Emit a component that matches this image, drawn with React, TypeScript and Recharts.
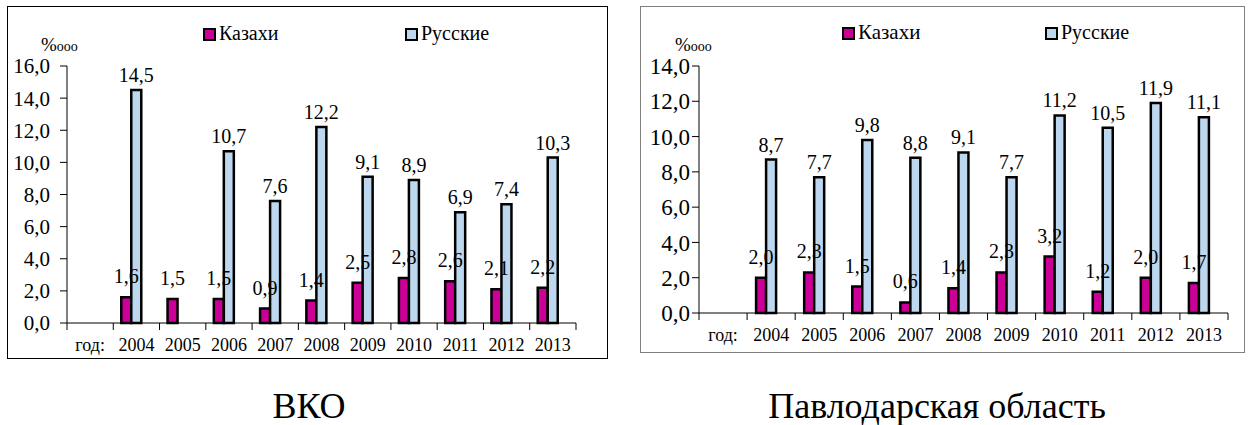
import React from 'react';
import { BarChart, Bar, XAxis, YAxis, LabelList } from 'recharts';

const years = ['год:', '2004', '2005', '2006', '2007', '2008', '2009', '2010', '2011', '2012', '2013'];

const vkoKazakh = [null, 1.6, 1.5, 1.5, 0.9, 1.4, 2.5, 2.8, 2.6, 2.1, 2.2];
const vkoRussian = [null, 14.5, null, 10.7, 7.6, 12.2, 9.1, 8.9, 6.9, 7.4, 10.3];
const vkoTicks = [0, 2, 4, 6, 8, 10, 12, 14, 16];

const pavKazakh = [null, 2.0, 2.3, 1.5, 0.6, 1.4, 2.3, 3.2, 1.2, 2.0, 1.7];
const pavRussian = [null, 8.7, 7.7, 9.8, 8.8, 9.1, 7.7, 11.2, 10.5, 11.9, 11.1];
const pavTicks = [0, 2, 4, 6, 8, 10, 12, 14];

const FONT = '"Liberation Serif", "Times New Roman", serif';
const KAZ = '#CC0099';
const RUS = '#BDD7EE';

const fmt = (v: any) => (v == null ? '' : Number(v).toFixed(1).replace('.', ','));

const buildRows = (kaz: (number | null)[], rus: (number | null)[]) =>
    years.map((year, i) => ({ year, kaz: kaz[i], rus: rus[i], pad: null }));

// Excel-style ticks: at category boundaries, labels in the middle
const YearTick = (props: any) => {
    const { x, y, payload } = props;
    const half = payload.offset ?? 0;
    const last = payload.value === years[years.length - 1];
    return (
        <g>
            <line x1={x - half} y1={y} x2={x - half} y2={y + 7} stroke="#000" />
            {last && <line x1={x + half} y1={y} x2={x + half} y2={y + 7} stroke="#000" />}
            <text x={x} y={y + 28} textAnchor="middle" fontSize={18} fontFamily={FONT} fill="#000">
                {payload.value}
            </text>
        </g>
    );
};

interface PanelProps {
    kaz: (number | null)[];
    rus: (number | null)[];
    ticks: number[];
    width: number;
    height: number;
    yWidth: number;
    right: number;
    xHeight: number;
    tickFont: number;
    tickMargin: number;
}

function Panel({ kaz, rus, ticks, width, height, yWidth, right, xHeight, tickFont, tickMargin }: PanelProps) {
    const data = buildRows(kaz, rus);
    return (
        <BarChart
            width={width}
            height={height}
            data={data}
            margin={{ top: 59, right, left: 0, bottom: 0 }}
            barGap={0}
            barSize={10}
        >
            <XAxis
                dataKey="year"
                height={xHeight}
                axisLine={{ stroke: '#000' }}
                tickLine={false}
                tickSize={0}
                tickMargin={0}
                interval={0}
                tick={<YearTick />}
            />
            <YAxis
                width={yWidth}
                domain={[0, ticks[ticks.length - 1]]}
                ticks={ticks}
                interval={0}
                tickFormatter={fmt}
                axisLine={{ stroke: '#000' }}
                tickLine={{ stroke: '#000' }}
                tickSize={7}
                tickMargin={tickMargin}
                tick={{ fontSize: tickFont, fill: '#000', fontFamily: FONT }}
            />
            <Bar dataKey="kaz" fill={KAZ} stroke="#000" strokeWidth={2.5} isAnimationActive={false}>
                <LabelList
                    dataKey="kaz"
                    position="top"
                    offset={14}
                    formatter={fmt}
                    fontFamily={FONT}
                    fontSize={20}
                    fill="#000"
                />
            </Bar>
            <Bar dataKey="rus" fill={RUS} stroke="#000" strokeWidth={2.5} isAnimationActive={false}>
                <LabelList
                    dataKey="rus"
                    position="top"
                    offset={8}
                    formatter={fmt}
                    fontFamily={FONT}
                    fontSize={20}
                    fill="#000"
                />
            </Bar>
            {/* empty third slot so the pair sits left of the category centre, as in Excel */}
            <Bar dataKey="pad" fill="none" isAnimationActive={false} />
        </BarChart>
    );
}

const swatch = (color: string): React.CSSProperties => ({
    display: 'inline-block',
    width: 13,
    height: 13,
    background: color,
    border: '2px solid #000',
    boxSizing: 'border-box',
    marginRight: 3,
    verticalAlign: '-1px',
});

const abs = (left: number, top: number, extra: React.CSSProperties = {}): React.CSSProperties => ({
    position: 'absolute',
    left,
    top,
    fontFamily: FONT,
    color: '#000',
    whiteSpace: 'nowrap',
    lineHeight: '20px',
    ...extra,
});

function Unit({ left, top }: { left: number; top: number }) {
    return (
        <div style={abs(left, top, { fontSize: 19 })}>
            %<span style={{ fontSize: 14 }}>ooo</span>
        </div>
    );
}

export default function App() {
    return (
        <div style={{ position: 'absolute', left: 0, top: 0, width: 1250, height: 425, background: '#fff' }}>
            {/* ВКО */}
            <div style={{ position: 'absolute', left: 7, top: 6, width: 601, height: 353, border: '1px solid #000', boxSizing: 'border-box' }}>
                <Panel
                    kaz={vkoKazakh}
                    rus={vkoRussian}
                    ticks={vkoTicks}
                    width={599}
                    height={351}
                    yWidth={59}
                    right={31}
                    xHeight={35}
                    tickFont={21}
                    tickMargin={10}
                />
            </div>
            <div style={abs(203, 23, { fontSize: 20 })}>
                <span style={swatch(KAZ)} />Казахи
            </div>
            <div style={abs(405, 23, { fontSize: 20 })}>
                <span style={swatch(RUS)} />Русские
            </div>
            <Unit left={41} top={35} />

            {/* Павлодарская область */}
            <div style={{ position: 'absolute', left: 640, top: 6, width: 605, height: 347, border: '1px solid #808080', boxSizing: 'border-box' }}>
                <Panel
                    kaz={pavKazakh}
                    rus={pavRussian}
                    ticks={pavTicks}
                    width={603}
                    height={345}
                    yWidth={58}
                    right={16}
                    xHeight={39}
                    tickFont={23}
                    tickMargin={2}
                />
            </div>
            <div style={abs(842, 22, { fontSize: 21 })}>
                <span style={swatch(KAZ)} />Казахи
            </div>
            <div style={abs(1045, 22, { fontSize: 20 })}>
                <span style={swatch(RUS)} />Русские
            </div>
            <Unit left={675} top={35} />

            <div style={{ position: 'absolute', left: 209, top: 388, width: 200, textAlign: 'center', fontSize: 36, lineHeight: '36px', fontFamily: FONT }}>
                ВКО
            </div>
            <div style={{ position: 'absolute', left: 737, top: 388, width: 400, textAlign: 'center', fontSize: 36, lineHeight: '36px', fontFamily: FONT }}>
                Павлодарская область
            </div>
        </div>
    );
}
